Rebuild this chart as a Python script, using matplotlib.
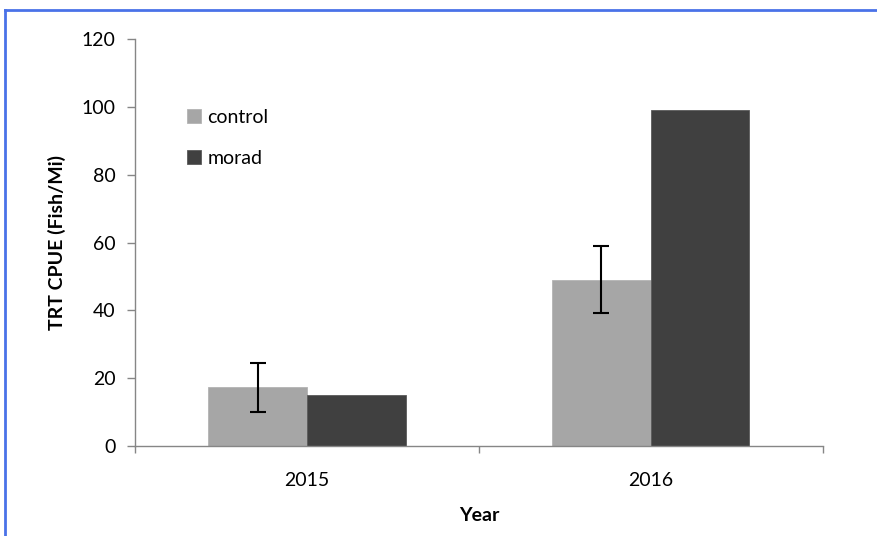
import numpy as np
import matplotlib
matplotlib.use('Agg')
import matplotlib.pyplot as plt
from matplotlib.lines import Line2D

plt.rcParams['font.family'] = ['Lato', 'DejaVu Sans']

years = ['2015', '2016']
control = [17.3, 49.0]
control_err = [7.2, 9.9]
morad = [15.1, 99.0]

fig = plt.figure(figsize=(8.77, 5.36), dpi=100)
ax = fig.add_axes([135/877, 1 - 446/536, (822.7 - 135)/877, (446 - 39.3)/536])

x = np.arange(len(years))
w = 0.287
ax.bar(x - w/2, control, w, color='#a6a6a6', edgecolor='#b4b4b4', linewidth=0.6, label='control')
ax.bar(x + w/2, morad, w, color='#404040', edgecolor='#5a5a5a', linewidth=0.6, label='morad')
ax.errorbar(x - w/2, control, yerr=control_err, fmt='none', ecolor='black',
            elinewidth=1.5, capsize=5.5, capthick=1.5)

ax.set_xlim(-0.5, 1.5)
ax.set_ylim(0, 120)
ax.set_yticks(range(0, 121, 20))
ax.set_xticks(x)
ax.set_xticklabels(years)
ax.set_xticks([-0.5, 0.5, 1.5], minor=True)
ax.tick_params(axis='x', which='major', length=0, pad=19, labelsize=14)
ax.tick_params(axis='x', which='minor', length=5, color='#868686', width=1)
ax.tick_params(axis='y', length=6, color='#868686', width=1, labelsize=14, pad=8)

for s in ['top', 'right']:
    ax.spines[s].set_visible(False)
for s in ['left', 'bottom']:
    ax.spines[s].set_color('#868686')
    ax.spines[s].set_linewidth(1)

ax.set_xlabel('Year', fontweight='bold', fontsize=14, labelpad=13)
ax.set_ylabel('TRT CPUE (Fish/Mi)', fontweight='bold', fontsize=14, labelpad=11)

ax.legend(loc='upper left', bbox_to_anchor=(0.062, 0.853), frameon=False,
          fontsize=14, handlelength=0.72, handleheight=0.72, handletextpad=0.3,
          labelspacing=1.25, borderpad=0)

# blue frame around the chart area (partly cropped)
fig.add_artist(Line2D([5/877, 1], [1 - 10/536, 1 - 10/536], color='#4a72e8', lw=2))
fig.add_artist(Line2D([5/877, 5/877], [0, 1 - 10/536], color='#4a72e8', lw=2))

fig.savefig('out.png', dpi=100)
